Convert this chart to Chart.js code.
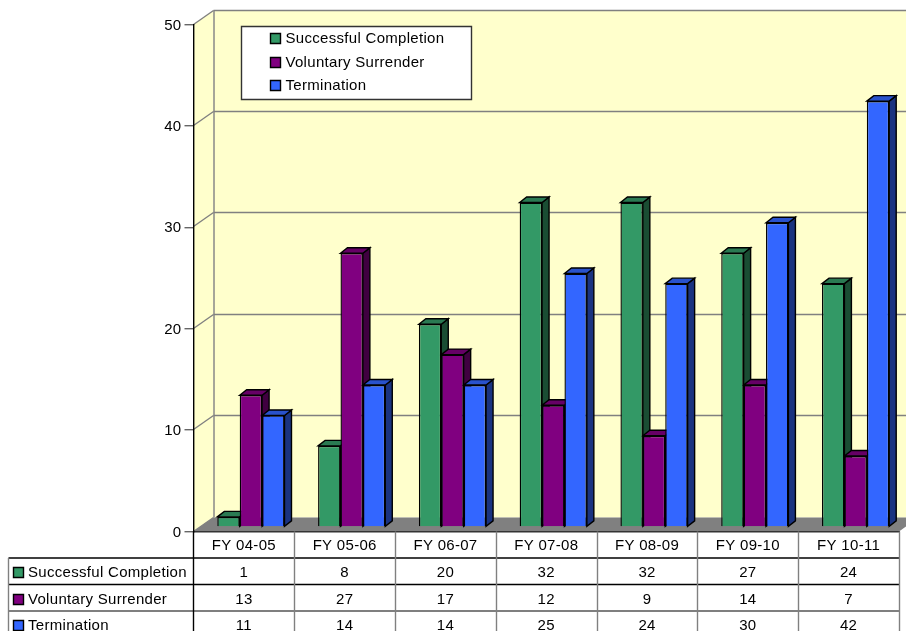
<!DOCTYPE html>
<html>
<head>
<meta charset="utf-8">
<style>
  html, body { margin: 0; padding: 0; background: #fff; overflow: hidden; }
  canvas { display: block; }
</style>
<script src="https://cdn.jsdelivr.net/npm/chart.js@4/dist/chart.umd.min.js"></script>
</head>
<body>
<canvas id="chart" width="906" height="631"></canvas>
<script>
const categories = ['FY 04-05', 'FY 05-06', 'FY 06-07', 'FY 07-08', 'FY 08-09', 'FY 09-10', 'FY 10-11'];
const successful = [1, 8, 20, 32, 32, 27, 24];
const voluntary = [13, 27, 17, 12, 9, 14, 7];
const termination = [11, 14, 14, 25, 24, 30, 42];
const seriesNames = ['Successful Completion', 'Voluntary Surrender', 'Termination'];
const seriesValues = [successful, voluntary, termination];
const frontColors = ['#339966', '#800080', '#3366FF'];
const topColors = ['#2A7A52', '#660066', '#2952CC'];
const sideColors = ['#1A4D33', '#400040', '#1A3380'];

const FONT = '15px "Liberation Sans", Arial, sans-serif';
const SPACING = '0.3px';
// 3d offsets: wall depth, and where the bars stand on the floor
const wallX = 20, wallY = 14;
const barX = 7, barY = 4.5;
const barDepthX = 7, barDepthY = 5.5;

function poly(ctx, pts, fill, stroke, width) {
  ctx.beginPath();
  pts.forEach((p, i) => i ? ctx.lineTo(p[0], p[1]) : ctx.moveTo(p[0], p[1]));
  ctx.closePath();
  if (fill) { ctx.fillStyle = fill; ctx.fill(); }
  if (stroke) { ctx.strokeStyle = stroke; ctx.lineWidth = width || 1.4; ctx.stroke(); }
}

function line(ctx, x1, y1, x2, y2, color, width) {
  ctx.beginPath();
  ctx.moveTo(x1, y1);
  ctx.lineTo(x2, y2);
  ctx.strokeStyle = color;
  ctx.lineWidth = width || 1.4;
  ctx.stroke();
}

const wallsPlugin = {
  id: 'walls',
  beforeDraw(chart) {
    const { ctx, chartArea: a, scales: { y } } = chart;
    ctx.letterSpacing = SPACING;
    const bottom = y.getPixelForValue(0), top = y.getPixelForValue(50);
    // back + side wall
    poly(ctx, [[a.left + wallX, top - wallY], [a.right + wallX, top - wallY], [a.right + wallX, bottom - wallY], [a.left + wallX, bottom - wallY]], '#FFFFCC');
    poly(ctx, [[a.left, top], [a.left + wallX, top - wallY], [a.left + wallX, bottom - wallY], [a.left, bottom]], '#FFFFCC');
    // floor
    poly(ctx, [[a.left, bottom], [a.left + wallX, bottom - wallY], [a.right + wallX, bottom - wallY], [a.right, bottom]], '#808080');
    y.ticks.forEach(t => {
      const py = Math.round(y.getPixelForValue(t.value)) - 0.5;
      line(ctx, a.left, py, a.left + wallX, py - wallY, '#808080');
      if (t.value > 0) line(ctx, a.left + wallX, py - wallY, a.right + wallX, py - wallY, '#808080');
    });
    line(ctx, a.left + wallX + 0.5, top - wallY, a.left + wallX + 0.5, bottom - wallY, '#808080');
  },
  beforeDatasetsDraw(chart) {
    const { ctx } = chart;
    // sides and tops of the bars, the library paints the fronts over them
    ctx.save();
    ctx.translate(barX, -barY);
    chart.data.datasets.forEach((ds, i) => {
      chart.getDatasetMeta(i).data.forEach(bar => {
        const l = bar.x - bar.width / 2, r = bar.x + bar.width / 2;
        poly(ctx, [[r, bar.y], [r + barDepthX, bar.y - barDepthY], [r + barDepthX, bar.base - barDepthY], [r, bar.base]], sideColors[i], '#000');
        poly(ctx, [[l, bar.y], [l + barDepthX, bar.y - barDepthY], [r + barDepthX, bar.y - barDepthY], [r, bar.y]], topColors[i], '#000');
      });
    });
    ctx.restore();
    ctx.save();
    ctx.translate(barX, -barY);
  },
  afterDatasetsDraw(chart) {
    chart.ctx.restore();
  }
};

const tablePlugin = {
  id: 'dataTable',
  afterDraw(chart) {
    const { ctx, chartArea: a, scales: { x } } = chart;
    const half = (x.getPixelForValue(1) - x.getPixelForValue(0)) / 2;
    const rowH = 26.5, tableLeft = 8.5;
    const rowTop = i => a.bottom + rowH * (i + 1);

    ctx.save();
    ctx.font = FONT;
    ctx.textBaseline = 'middle';

    line(ctx, tableLeft, rowTop(0), a.right, rowTop(0), '#000');
    line(ctx, tableLeft, rowTop(1), a.right, rowTop(1), '#000');
    line(ctx, tableLeft, rowTop(2), a.right, rowTop(2), '#555');
    line(ctx, tableLeft, rowTop(0), tableLeft, 631, '#808080');
    line(ctx, a.left, a.bottom, a.left, 631, '#000');
    categories.forEach((c, i) => {
      const edge = Math.round(x.getPixelForValue(i) + half) + 0.5;
      line(ctx, edge, a.bottom, edge, 631, '#808080');
    });

    seriesNames.forEach((name, r) => {
      const cy = rowTop(r) + rowH / 2 + 2;
      const sy = Math.round(rowTop(r) + rowH / 2) + 1;
      poly(ctx, [[13.5, sy - 4.5], [23.5, sy - 4.5], [23.5, sy + 5.5], [13.5, sy + 5.5]], frontColors[r], '#000');
      ctx.fillStyle = '#000';
      ctx.textAlign = 'left';
      ctx.fillText(name, 28, cy);
      ctx.textAlign = 'center';
      seriesValues[r].forEach((v, i) => ctx.fillText(String(v), x.getPixelForValue(i), cy));
    });
    ctx.restore();
  }
};

const legendPlugin = {
  id: 'boxLegend',
  afterDraw(chart) {
    const { ctx } = chart;
    ctx.save();
    poly(ctx, [[241.5, 26.5], [471.5, 26.5], [471.5, 99.5], [241.5, 99.5]], '#fff', '#333');
    ctx.font = FONT;
    ctx.textBaseline = 'middle';
    ctx.textAlign = 'left';
    [38, 62, 85].forEach((cy, i) => {
      poly(ctx, [[270.5, cy - 4.5], [280.5, cy - 4.5], [280.5, cy + 5.5], [270.5, cy + 5.5]], frontColors[i], '#000');
      ctx.fillStyle = '#000';
      ctx.fillText(seriesNames[i], 285.5, cy + 0.5);
    });
    ctx.restore();
  }
};

new Chart(document.getElementById('chart').getContext('2d'), {
  type: 'bar',
  data: {
    labels: categories,
    datasets: seriesNames.map((name, i) => ({
      label: name,
      data: seriesValues[i],
      backgroundColor: frontColors[i],
      borderColor: '#000',
      borderWidth: 1.4,
      barPercentage: 1,
      categoryPercentage: 2 / 3,
      clip: false
    }))
  },
  options: {
    responsive: false,
    animation: false,
    layout: { padding: { top: 24.5, right: 7, left: 0, bottom: 0 } },
    plugins: { legend: { display: false }, tooltip: { enabled: false } },
    scales: {
      x: {
        afterFit: s => { s.height = 99.5; },
        grid: { display: false, drawTicks: false },
        border: { color: '#333', width: 1.4 },
        ticks: { color: '#000', font: { size: 15, family: '"Liberation Sans"' }, padding: 5, maxRotation: 0, autoSkip: false }
      },
      y: {
        min: 0,
        max: 50,
        afterFit: s => { s.width = 193.5; },
        grid: { drawOnChartArea: false, tickLength: 9, color: '#666', lineWidth: 1.4 },
        border: { color: '#000', width: 1.4 },
        ticks: { stepSize: 10, color: '#000', font: { size: 15, family: '"Liberation Sans"' }, padding: 3, labelOffset: 1 }
      }
    }
  },
  plugins: [wallsPlugin, tablePlugin, legendPlugin]
});
</script>
</body>
</html>
